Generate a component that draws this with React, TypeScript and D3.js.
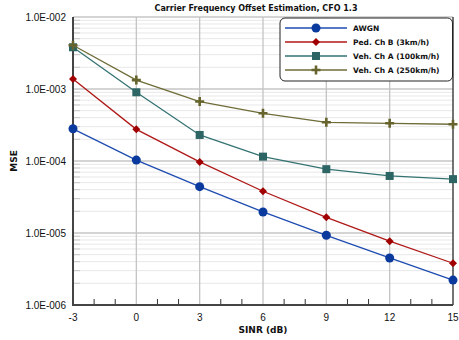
import React from 'react';
import * as d3 from 'd3';

// SINR points in dB
const sinr = [-3, 0, 3, 6, 9, 12, 15];

// MSE values
const awgn = [2.8e-4, 1.03e-4, 4.4e-5, 1.96e-5, 9.3e-6, 4.5e-6, 2.22e-6];
const pedB = [1.38e-3, 2.75e-4, 9.7e-5, 3.8e-5, 1.65e-5, 7.7e-6, 3.8e-6];
const vehA100 = [3.8e-3, 9.0e-4, 2.3e-4, 1.15e-4, 7.7e-5, 6.2e-5, 5.6e-5];
const vehA250 = [4.05e-3, 1.33e-3, 6.7e-4, 4.6e-4, 3.45e-4, 3.34e-4, 3.24e-4];

const seriesNames = ['AWGN', 'Ped. Ch B (3km/h)', 'Veh. Ch A (100km/h)', 'Veh. Ch A (250km/h)'];
const xTicks = [-3, 0, 3, 6, 9, 12, 15];
const yTickLabels = ['1.0E-002', '1.0E-003', '1.0E-004', '1.0E-005', '1.0E-006'];
const yDecades = [1e-2, 1e-3, 1e-4, 1e-5, 1e-6];

const series = [
  { name: seriesNames[0], values: awgn, color: '#1e4cb0', fill: '#0a3a9e', marker: 'circle' },
  { name: seriesNames[1], values: pedB, color: '#b01818', fill: '#a00000', marker: 'diamond' },
  { name: seriesNames[2], values: vehA100, color: '#357373', fill: '#2d6464', marker: 'square' },
  { name: seriesNames[3], values: vehA250, color: '#6e6c38', fill: '#66642c', marker: 'plus' },
];

function Marker({ type, x, y, color }: { type: string; x: number; y: number; color: string }) {
  if (type === 'circle') return <circle cx={x} cy={y} r={4.5} fill={color} />;
  if (type === 'diamond') {
    const s = 4;
    return <path d={`M${x},${y - s}L${x + s},${y}L${x},${y + s}L${x - s},${y}Z`} fill={color} />;
  }
  if (type === 'square') return <rect x={x - 4} y={y - 4} width={8} height={8} fill={color} />;
  return (
    <path d={`M${x - 4.5},${y}H${x + 4.5}M${x},${y - 4.5}V${y + 4.5}`} stroke={color} strokeWidth={2.6} />
  );
}

export default function App() {
  const width = 459;
  const height = 340;
  const m = { left: 73, right: 6, top: 17, bottom: 35 };
  const x = d3.scaleLinear().domain([-3, 15]).range([m.left, width - m.right]);
  const y = d3.scaleLog().domain([1e-6, 1e-2]).range([height - m.bottom, m.top]);

  const minorY: number[] = [];
  for (let e = -6; e < -2; e++) {
    for (let k = 2; k <= 9; k++) minorY.push(k * Math.pow(10, e));
  }
  const minorX = d3.range(-2, 15).filter((v) => v % 3 !== 0);

  const line = d3
    .line<number>()
    .x((_, i) => x(sinr[i]))
    .y((d) => y(d));

  const x0 = x(-3);
  const x1 = x(15);
  const y0 = y(1e-6);
  const y1 = y(1e-2);

  const legX = 280;
  const legY = 18;
  const tickFont = '"Liberation Sans", Arial, sans-serif';
  const boldFont = '"DejaVu Sans", Verdana, sans-serif';

  return (
    <svg width={width} height={height} style={{ position: 'absolute', left: 0, top: 0, background: '#fff' }}>
      {/* minor horizontal grid */}
      {minorY.map((v, i) => (
        <g key={'my' + i}>
          <line x1={x0} x2={x1} y1={y(v)} y2={y(v)} stroke="#e8e8e8" strokeWidth={1} />
          <line x1={x0} x2={x0 + 7} y1={y(v)} y2={y(v)} stroke="#c8c8c8" strokeWidth={1} />
        </g>
      ))}
      {/* major horizontal grid */}
      {yDecades.map((v, i) => (
        <line key={'My' + i} x1={x0} x2={x1} y1={y(v)} y2={y(v)} stroke="#a8a8a8" strokeWidth={1} />
      ))}
      {/* vertical grid */}
      {xTicks.slice(1, -1).map((v) => (
        <line key={'gx' + v} x1={x(v)} x2={x(v)} y1={y1} y2={y0} stroke="#c4c4c4" strokeWidth={1.3} />
      ))}
      {/* minor x ticks */}
      {minorX.map((v) => (
        <line key={'mx' + v} x1={x(v)} x2={x(v)} y1={y0} y2={y0 - 6} stroke="#333" strokeWidth={1} />
      ))}
      {/* axes */}
      <line x1={x0} x2={x0} y1={y1} y2={y0 + 1} stroke="#444" strokeWidth={2} />
      <line x1={x0} x2={x1} y1={y0} y2={y0} stroke="#444" strokeWidth={2} />
      <line x1={x1} x2={x1} y1={y1} y2={y0} stroke="#444" strokeWidth={1.5} />

      {/* series */}
      {series.map((s) => (
        <g key={s.name}>
          <path d={line(s.values) || ''} fill="none" stroke={s.color} strokeWidth={1.3} />
          {s.values.map((v, i) => (
            <Marker key={i} type={s.marker} x={x(sinr[i])} y={y(v)} color={s.fill} />
          ))}
        </g>
      ))}

      {/* tick labels */}
      {yDecades.map((v, i) => (
        <text key={'yt' + i} x={66} y={y(v)} dy="0.35em" textAnchor="end" fontSize={10} fontFamily={tickFont} fill="#111">
          {yTickLabels[i]}
        </text>
      ))}
      {xTicks.map((v) => (
        <text key={'xt' + v} x={x(v)} y={y0 + 16} textAnchor="middle" fontSize={10} fontFamily={tickFont} fill="#111">
          {v}
        </text>
      ))}

      {/* titles */}
      <text x={256} y={11} textAnchor="middle" fontSize={8} fontWeight="bold" fontFamily={boldFont} fill="#111">
        Carrier Frequency Offset Estimation, CFO 1.3
      </text>
      <text x={(x0 + x1) / 2} y={333} textAnchor="middle" fontSize={9} fontWeight="bold" fontFamily={boldFont} fill="#111">
        SINR (dB)
      </text>
      <text
        transform={`translate(17,${(y0 + y1) / 2}) rotate(-90)`}
        textAnchor="middle"
        fontSize={9}
        fontWeight="bold"
        fontFamily={boldFont}
        fill="#111"
      >
        MSE
      </text>

      {/* legend */}
      <rect x={legX} y={legY} width={172.5} height={63} rx={5} fill="#fff" stroke="#222" strokeWidth={1} />
      {series.map((s, i) => {
        const ly = legY + 10 + i * 14;
        return (
          <g key={'lg' + i}>
            <line x1={285} x2={347} y1={ly} y2={ly} stroke={s.color} strokeWidth={1.5} />
            <Marker type={s.marker} x={316} y={ly} color={s.fill} />
            <text x={353} y={ly} dy="0.35em" fontSize={7.5} fontWeight="bold" fontFamily={boldFont} fill="#111">
              {s.name}
            </text>
          </g>
        );
      })}
    </svg>
  );
}
